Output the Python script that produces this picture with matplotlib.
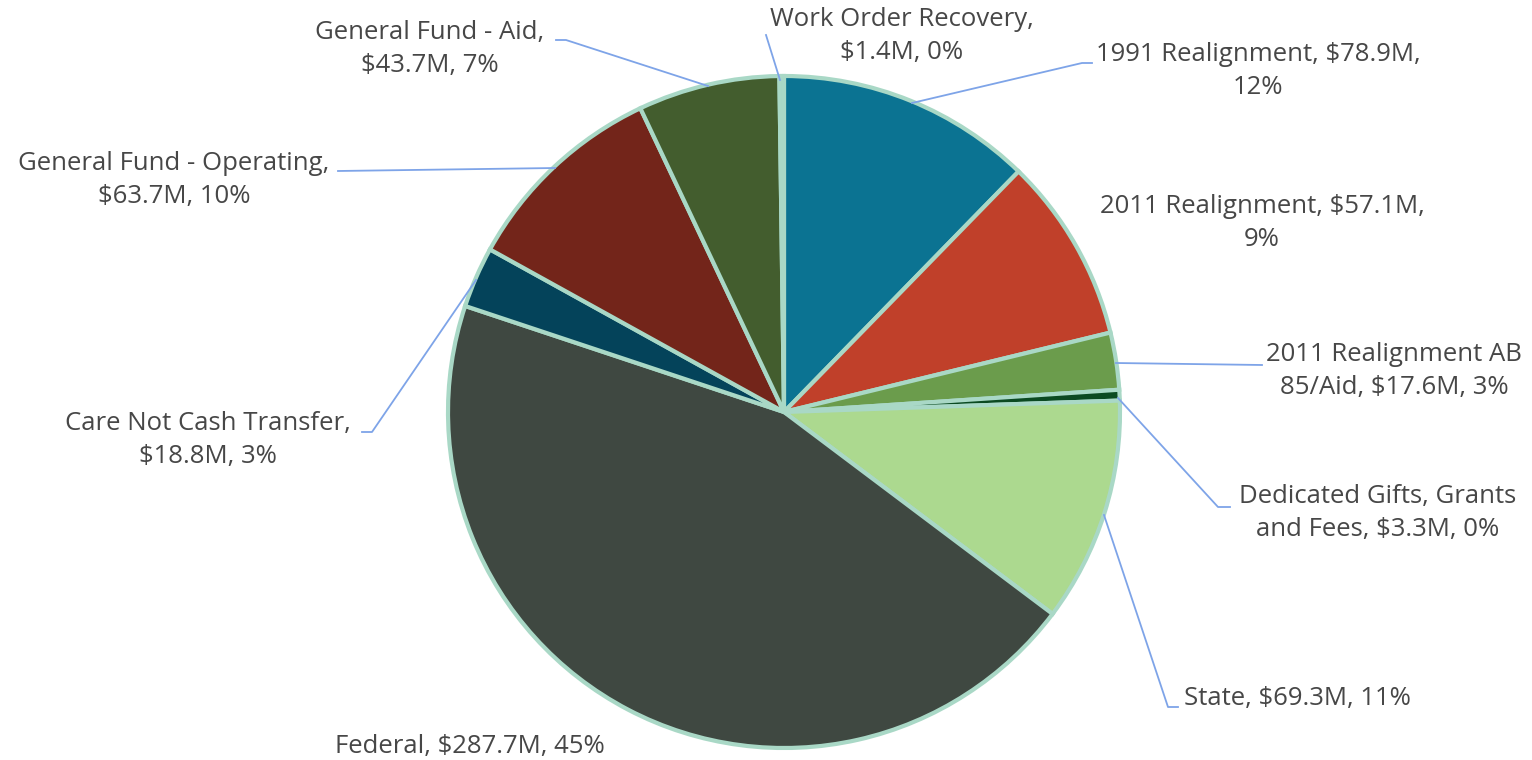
import matplotlib
matplotlib.use('Agg')
import matplotlib.pyplot as plt

names = ['1991 Realignment', '2011 Realignment', '2011 Realignment AB 85/Aid',
         'Dedicated Gifts, Grants and Fees', 'State', 'Federal',
         'Care Not Cash Transfer', 'General Fund - Operating',
         'General Fund - Aid', 'Work Order Recovery']
values = [78.9, 57.1, 17.6, 3.3, 69.3, 287.7, 18.8, 63.7, 43.7, 1.4]
pcts = ['12%', '9%', '3%', '0%', '11%', '45%', '3%', '10%', '7%', '0%']
labels = ['1991 Realignment, $78.9M,\n12%',
          '2011 Realignment, $57.1M,\n9%',
          '2011 Realignment AB\n85/Aid, $17.6M, 3%',
          'Dedicated Gifts, Grants\nand Fees, $3.3M, 0%',
          'State, $69.3M, 11%',
          'Federal, $287.7M, 45%',
          'Care Not Cash Transfer,\n$18.8M, 3%',
          'General Fund - Operating,\n$63.7M, 10%',
          'General Fund - Aid,\n$43.7M, 7%',
          'Work Order Recovery,\n$1.4M, 0%']
colors = ['#0b7392', '#c0402a', '#6b9c4c', '#0b4a22', '#acd98f',
          '#3f4841', '#04435a', '#73251a', '#435d2e', '#a8d7c6']

W, H = 1532, 760
cx, cy, R = 784, 412, 336

fig = plt.figure(figsize=(W / 100, H / 100), dpi=100)
ax = fig.add_axes([(cx - R) / W, (H - cy - R) / H, 2 * R / W, 2 * R / H])
ax.pie(values, colors=colors, startangle=90, counterclock=False, radius=1,
       wedgeprops=dict(edgecolor='#a9d8c6', linewidth=3))
ax.set_xlim(-1, 1)
ax.set_ylim(-1, 1)
ax.set_aspect('equal')
ax.axis('off')


def d(px, py):
    # pixel -> data coords
    return (px - cx) / R, (cy - py) / R


# label centres (pixels)
label_pos = [(1258, 71), (1262, 223), (1394, 371), (1378, 513), (1297, 698),
             (470, 746), (208, 440), (174, 180), (430, 49), (902, 36)]
for lab, (px, py) in zip(labels, label_pos):
    x, y = d(px, py)
    ax.text(x, y, lab, ha='center', va='center', fontsize=18.5, color='#474747',
            family='Open Sans', linespacing=1.4, clip_on=False)

# leader lines
leaders = [
    [(1092, 63), (1082, 63), (912, 103)],
    [(1262, 365), (1116, 363)],
    [(1230, 507), (1218, 507), (1118, 398)],
    [(1178, 707), (1168, 707), (1104, 515)],
    [(362, 432), (372, 432), (476, 280)],
    [(338, 171), (555, 168)],
    [(556, 40), (566, 40), (708, 86)],
    [(766, 35), (780, 80)],
]
for pts in leaders:
    xs, ys = zip(*[d(px, py) for px, py in pts])
    ax.plot(xs, ys, color='#7ea4e8', lw=1.3, clip_on=False)

fig.savefig('out.png', dpi=100)
